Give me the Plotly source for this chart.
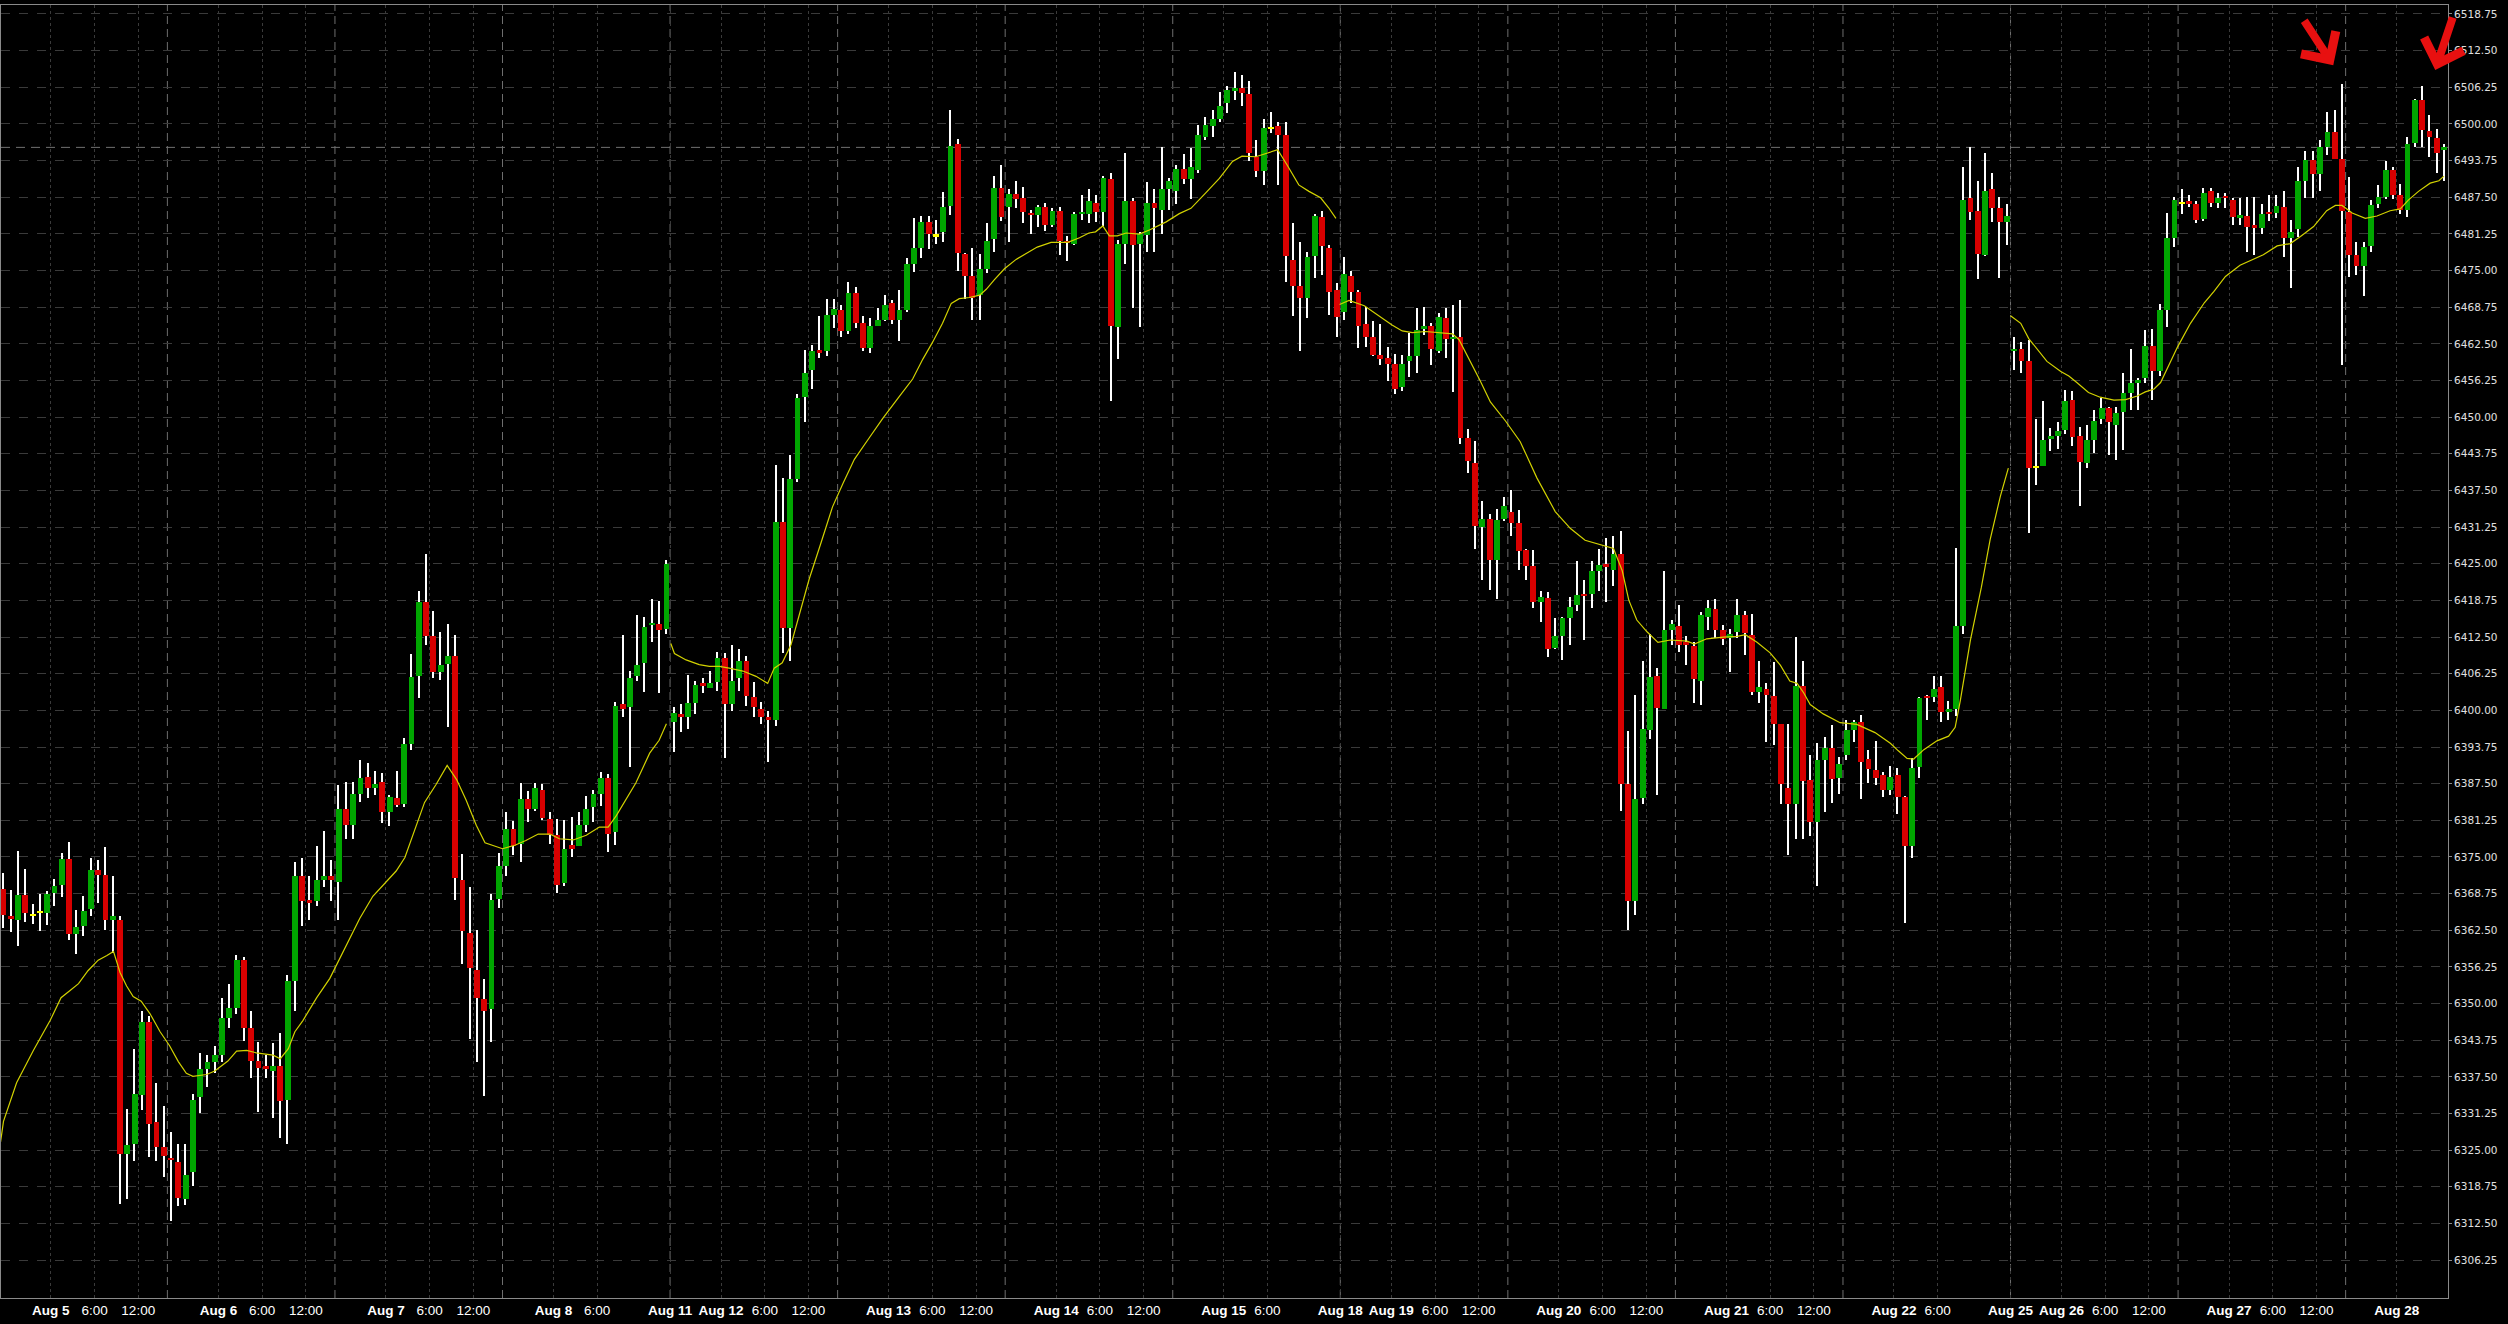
import plotly.graph_objects as go

# ---------------- data (hourly bars) ----------------
opens = [6369.6,6364.7,6364.2,6368.5,6364.9,6365.4,6365.4,6368.8,6370.2,6374.7,6361.8,6363.2,6366.1,6372.8,6372.0,6364.3,6364.3,6324.4,6326.1,6334.4,
6346.9,6329.8,6325.6,6323.6,6323.0,6316.6,6321.2,6334.1,6338.8,6340.1,6341.3,6347.5,6349.2,6357.5,6345.9,6340.2,6339.4,6338.5,6339.4,6333.6,
6353.9,6371.8,6367.4,6367.5,6371.1,6371.7,6370.8,6383.1,6380.4,6385.7,6388.6,6386.8,6387.7,6382.7,6385.1,6384.1,6394.3,6405.8,6418.4,6412.7,
6406.5,6407.9,6409.2,6371.0,6362.0,6355.7,6350.8,6349.0,6367.8,6373.4,6379.8,6377.2,6384.8,6383.2,6386.5,6381.5,6378.7,6370.5,6377.0,6376.8,
6380.4,6383.5,6385.7,6388.5,6379.2,6401.0,6400.5,6405.8,6408.0,6414.5,6414.8,6413.9,6398.0,6399.4,6398.8,6401.3,6404.7,6403.8,6404.8,6408.9,
6401.1,6405.6,6408.4,6402.2,6400.3,6398.8,6398.3,6432.1,6414.0,6439.5,6453.4,6458.0,6461.4,6461.2,6467.5,6468.3,6464.7,6471.1,6466.0,6461.8,
6465.5,6466.6,6469.4,6466.6,6468.3,6476.1,6478.9,6483.2,6480.8,6481.6,6486.0,6496.6,6477.8,6474.1,6470.8,6475.3,6480.4,6489.1,6485.9,6488.0,
6487.3,6484.8,6484.4,6485.8,6482.7,6485.2,6479.9,6479.5,6484.6,6484.7,6486.5,6484.9,6490.6,6465.4,6479.5,6486.9,6479.5,6481.1,6486.6,6485.3,
6488.9,6488.5,6492.3,6490.6,6492.2,6497.7,6499.7,6500.9,6503.6,6505.7,6506.1,6505.1,6494.4,6491.9,6499.1,6499.6,6498.1,6476.8,6472.4,6470.4,
6477.4,6484.1,6478.8,6471.7,6468.0,6474.1,6471.3,6465.9,6463.6,6460.6,6460.0,6459.1,6455.2,6459.5,6460.4,6465.0,6465.6,6461.2,6466.9,6463.3,
6463.6,6446.5,6442.2,6431.2,6432.6,6425.6,6432.6,6433.9,6432.0,6427.4,6424.6,6418.5,6419.2,6410.6,6412.7,6415.8,6417.9,6419.9,6419.8,6423.8,
6424.8,6424.0,6426.6,6387.5,6367.5,6385.1,6396.7,6405.8,6400.3,6413.7,6414.4,6411.5,6410.9,6405.0,6416.0,6417.2,6413.7,6412.4,6413.4,6416.2,
6412.9,6403.2,6403.6,6402.5,6397.6,6386.7,6384.0,6404.1,6388.2,6381.0,6391.5,6393.5,6388.5,6392.4,6396.7,6398.0,6391.7,6389.8,6389.0,6386.5,
6389.0,6385.2,6376.8,6390.3,6402.3,6402.3,6403.9,6399.8,6400.3,6414.4,6487.4,6485.2,6477.7,6488.9,6485.6,6483.2,6461.2,6461.7,6459.6,6441.3,
6441.7,6446.2,6446.7,6447.8,6452.9,6446.7,6442.2,6446.1,6449.7,6451.5,6448.7,6450.8,6454.2,6455.9,6456.7,6462.2,6457.8,6468.2,6480.6,6486.3,
6486.8,6486.3,6483.8,6488.6,6486.5,6487.6,6487.0,6484.0,6484.3,6482.7,6482.2,6484.9,6484.8,6485.9,6480.5,6482.0,6490.3,6493.9,6491.4,6496.1,
6498.7,6494.0,6484.9,6477.7,6475.7,6479.1,6486.4,6487.6,6492.2,6487.9,6485.3,6496.8,6504.1,6498.8,6497.6,6495.5]

highs = [6372.3,6369.4,6376.1,6372.9,6366.9,6368.6,6369.2,6371.2,6375.6,6377.5,6365.9,6368.4,6374.8,6374.5,6376.7,6371.8,6364.9,6332.0,6342.3,6348.7,
6347.9,6336.4,6332.5,6328.1,6326.0,6326.0,6334.6,6341.5,6341.3,6342.8,6350.9,6353.4,6358.3,6357.9,6348.7,6343.4,6341.3,6343.2,6344.9,6354.9,
6374.1,6374.9,6371.8,6376.9,6379.4,6374.5,6387.3,6387.7,6387.8,6391.5,6391.1,6389.6,6389.4,6385.5,6389.6,6395.3,6409.6,6420.3,6426.7,6416.9,
6413.3,6414.7,6412.9,6375.5,6369.8,6362.5,6354.2,6368.6,6375.6,6382.6,6381.1,6387.6,6386.3,6387.6,6387.4,6382.6,6381.5,6381.3,6381.8,6382.6,
6385.4,6386.5,6389.5,6389.1,6401.4,6412.8,6406.7,6416.2,6415.9,6419.0,6418.6,6425.7,6400.5,6401.1,6406.1,6405.0,6405.5,6406.7,6410.0,6409.7,
6411.2,6410.4,6409.3,6404.8,6401.4,6399.9,6441.9,6439.7,6443.6,6454.0,6461.5,6462.3,6467.2,6470.2,6470.2,6469.1,6473.1,6472.2,6467.2,6466.9,
6468.6,6470.8,6469.9,6471.6,6477.2,6484.0,6484.3,6484.3,6483.6,6488.4,6502.4,6497.4,6478.0,6478.9,6477.8,6483.1,6491.1,6493.0,6488.9,6490.3,
6489.3,6485.3,6486.1,6486.5,6485.6,6485.8,6480.9,6485.0,6487.9,6488.9,6487.9,6491.1,6491.6,6480.2,6495.0,6487.3,6481.5,6490.1,6488.9,6496.0,
6490.7,6493.0,6494.8,6495.9,6499.8,6501.2,6502.4,6505.5,6506.5,6508.8,6508.4,6507.3,6497.3,6500.8,6502.0,6500.3,6500.4,6483.1,6479.9,6478.2,
6484.7,6485.2,6479.4,6472.8,6477.3,6475.0,6471.7,6468.8,6466.4,6465.8,6461.9,6460.8,6460.6,6464.4,6468.6,6468.7,6466.0,6467.7,6468.6,6469.2,
6470.0,6448.0,6446.0,6435.7,6433.5,6434.3,6436.3,6437.5,6434.1,6427.6,6427.3,6420.3,6420.1,6415.8,6415.9,6419.4,6425.4,6422.3,6425.4,6427.6,
6429.4,6429.8,6430.5,6396.4,6402.7,6408.4,6413.1,6407.3,6423.8,6415.4,6417.9,6412.7,6411.6,6416.7,6418.8,6419.0,6414.5,6413.8,6419.0,6417.0,
6416.5,6408.4,6404.7,6408.2,6397.7,6397.6,6412.5,6408.4,6392.4,6394.4,6395.5,6397.5,6392.0,6398.4,6398.4,6399.2,6393.3,6394.8,6389.5,6390.5,
6390.1,6385.4,6391.9,6402.3,6402.7,6405.8,6405.8,6401.6,6427.7,6492.6,6496.0,6490.2,6495.0,6491.6,6487.5,6486.4,6463.7,6462.8,6463.2,6449.7,
6452.7,6448.1,6449.2,6454.6,6454.5,6448.3,6448.7,6451.2,6453.3,6451.8,6451.8,6457.6,6461.6,6456.6,6464.9,6465.0,6469.3,6484.8,6487.6,6488.9,
6487.9,6486.8,6489.0,6489.1,6488.2,6488.3,6487.4,6487.4,6487.6,6487.6,6486.3,6487.9,6487.8,6488.5,6483.6,6492.7,6495.3,6495.3,6497.3,6502.1,
6502.4,6506.8,6491.0,6479.9,6479.9,6487.0,6489.6,6493.6,6492.7,6489.8,6497.7,6504.3,6506.5,6501.5,6499.1,6496.6]

lows = [6362.9,6362.2,6359.8,6363.9,6363.6,6362.4,6363.4,6366.7,6368.1,6360.8,6358.5,6361.6,6365.0,6367.1,6362.5,6358.6,6315.8,6316.7,6323.2,6331.8,
6323.8,6323.2,6320.5,6313.0,6315.4,6315.6,6318.9,6331.3,6335.8,6338.1,6340.1,6345.9,6348.3,6343.6,6337.3,6331.5,6337.3,6330.5,6327.1,6326.0,
6348.7,6363.2,6364.2,6366.7,6369.8,6367.5,6364.3,6378.0,6378.0,6384.3,6385.1,6385.5,6380.8,6380.2,6383.5,6383.5,6393.3,6402.1,6411.2,6405.5,
6405.1,6397.1,6367.6,6356.7,6344.0,6340.1,6334.2,6343.4,6366.3,6371.7,6375.3,6374.2,6380.9,6382.8,6381.3,6377.2,6368.9,6370.0,6375.0,6376.8,
6379.2,6380.9,6383.7,6375.9,6377.0,6398.8,6390.4,6405.0,6403.1,6411.7,6403.0,6413.0,6392.9,6396.3,6396.9,6399.4,6403.0,6403.8,6403.3,6391.9,
6399.9,6403.3,6400.7,6398.8,6397.7,6391.2,6397.4,6409.7,6408.4,6438.9,6449.2,6454.8,6460.0,6460.4,6465.2,6463.7,6464.1,6465.2,6461.2,6461.0,
6465.5,6466.4,6465.8,6462.9,6467.9,6474.7,6477.2,6478.7,6479.5,6479.8,6484.5,6475.0,6470.2,6466.6,6466.5,6474.5,6478.2,6483.5,6479.8,6485.6,
6483.1,6481.2,6482.5,6481.8,6482.5,6477.7,6476.6,6479.4,6483.7,6483.1,6483.2,6482.6,6452.8,6459.9,6476.1,6468.6,6465.4,6478.1,6478.2,6481.2,
6485.4,6486.3,6489.8,6487.2,6491.6,6497.3,6497.7,6500.4,6501.9,6504.0,6503.0,6493.7,6491.0,6489.6,6498.5,6489.6,6473.1,6467.3,6461.3,6466.9,
6473.7,6474.2,6467.4,6463.6,6466.5,6469.5,6461.8,6462.0,6460.4,6458.9,6456.2,6453.9,6454.5,6456.8,6457.6,6464.0,6458.9,6461.0,6460.0,6454.3,
6445.5,6440.5,6427.6,6422.3,6420.6,6419.0,6432.3,6429.8,6424.0,6422.2,6417.4,6415.1,6409.1,6410.4,6408.6,6411.1,6417.0,6412.0,6417.5,6420.3,
6418.5,6421.2,6382.8,6362.6,6365.1,6384.0,6395.1,6385.6,6400.3,6411.1,6409.9,6407.7,6401.2,6400.9,6413.7,6412.4,6411.1,6406.6,6412.4,6409.4,
6402.7,6401.2,6394.6,6394.1,6384.0,6375.4,6378.0,6378.0,6378.6,6370.0,6382.6,6384.2,6385.8,6391.5,6394.6,6384.9,6387.6,6387.2,6385.2,6385.6,
6382.4,6363.7,6374.9,6388.5,6398.4,6401.4,6398.0,6398.4,6399.1,6413.0,6483.6,6473.5,6477.4,6483.2,6473.8,6479.4,6458.0,6457.6,6430.3,6438.5,
6441.7,6444.3,6444.5,6447.1,6445.0,6434.8,6441.3,6443.9,6448.8,6443.6,6442.7,6444.4,6451.2,6451.2,6455.8,6453.0,6457.0,6465.3,6479.0,6484.6,
6485.9,6483.1,6483.5,6485.8,6485.6,6485.7,6482.7,6482.7,6478.2,6477.7,6481.3,6483.5,6483.9,6477.3,6472.0,6480.8,6487.4,6487.3,6488.5,6494.7,
6494.0,6458.9,6473.9,6474.3,6470.7,6478.2,6485.6,6487.2,6487.2,6484.6,6484.2,6496.0,6496.0,6494.3,6491.6,6490.2]

closes = [6365.1,6364.5,6368.5,6365.4,6364.9,6365.4,6368.6,6370.1,6374.7,6361.8,6363.0,6365.8,6372.8,6372.0,6364.2,6364.9,6324.4,6325.9,6334.6,6346.9,
6329.5,6325.6,6324.0,6323.3,6316.8,6320.8,6333.6,6338.8,6340.1,6341.3,6347.5,6349.2,6357.5,6345.9,6340.2,6339.0,6338.9,6339.4,6333.4,6353.8,
6371.8,6367.5,6367.2,6371.0,6371.7,6371.0,6383.1,6380.5,6385.7,6388.4,6386.8,6387.4,6382.7,6385.3,6383.8,6394.3,6405.7,6418.4,6412.7,6406.5,
6407.7,6409.2,6371.4,6362.4,6356.1,6351.0,6348.7,6367.7,6373.4,6379.8,6376.8,6384.8,6383.2,6386.7,6381.7,6378.7,6370.3,6376.4,6376.4,6380.4,
6383.2,6385.7,6388.5,6379.0,6400.7,6400.3,6405.6,6407.8,6414.2,6414.8,6413.7,6424.9,6399.6,6398.8,6401.3,6404.4,6404.1,6404.7,6408.9,6401.1,
6405.0,6408.4,6402.5,6400.5,6398.8,6398.3,6432.1,6414.0,6439.5,6453.2,6457.6,6461.3,6461.0,6467.4,6468.5,6464.7,6471.1,6466.0,6461.8,6465.5,
6466.5,6469.2,6466.6,6468.3,6476.1,6478.9,6483.2,6481.2,6480.8,6485.9,6496.3,6478.0,6474.1,6470.3,6475.2,6480.0,6489.1,6484.2,6488.0,6487.2,
6484.9,6484.4,6485.8,6482.8,6485.2,6480.1,6479.7,6484.6,6484.9,6486.9,6484.9,6490.8,6465.6,6479.5,6486.9,6479.4,6481.2,6486.6,6485.6,6488.9,
6490.2,6492.3,6490.6,6492.6,6498.1,6499.8,6500.9,6503.1,6505.8,6506.1,6505.2,6495.0,6491.9,6499.3,6499.1,6498.1,6477.4,6472.4,6470.4,6477.3,
6484.3,6479.1,6471.4,6467.1,6474.4,6471.4,6465.6,6463.7,6460.6,6459.9,6459.1,6454.8,6459.1,6460.4,6464.9,6465.6,6461.6,6467.0,6463.3,6463.6,
6446.5,6442.5,6431.5,6432.6,6425.6,6432.5,6434.8,6432.0,6427.2,6424.7,6418.5,6419.4,6410.5,6412.6,6415.7,6417.6,6419.7,6419.5,6423.8,6424.8,
6424.5,6426.7,6387.5,6367.5,6384.9,6396.9,6405.7,6400.4,6413.7,6414.7,6411.2,6411.2,6405.3,6416.2,6417.4,6413.7,6412.2,6413.1,6416.2,6413.2,
6403.2,6404.0,6402.7,6397.6,6387.4,6384.0,6404.1,6387.9,6381.0,6391.5,6393.5,6388.3,6390.9,6396.7,6398.0,6391.2,6390.0,6388.5,6386.5,6388.7,
6385.2,6376.8,6390.1,6402.1,6402.1,6403.6,6399.8,6400.2,6414.4,6487.0,6484.9,6477.9,6488.6,6485.7,6483.2,6484.3,6461.7,6459.6,6441.4,6441.3,
6446.1,6446.7,6447.7,6452.7,6446.6,6442.4,6446.1,6449.4,6451.5,6449.2,6450.7,6454.2,6455.9,6456.3,6462.2,6457.8,6468.2,6480.5,6487.0,6486.3,
6486.3,6483.7,6488.3,6486.5,6487.4,6487.3,6484.2,6484.3,6482.4,6482.2,6484.6,6484.6,6486.0,6480.5,6481.6,6490.3,6493.9,6491.4,6496.0,6498.7,
6494.0,6485.2,6477.7,6475.8,6479.0,6486.1,6487.6,6492.2,6487.9,6485.4,6496.6,6504.1,6498.9,6497.7,6495.1,6496.0]

doji_bars = [4, 5, 128, 174, 279, 299]

# moving-average line, read at sample points (bar position, value); None = gap at weekend breaks
ma_x = [-0.4,0,1.8,4.1,6.4,7.9,9.1,10.3,11.6,13.0,14.2,15.1,16.0,16.9,17.8,18.9,20.1,21.5,22.8,24.0,25.1,26.0,27.9,29.0,30.8,32.0,33.4,34.7,37.0,38.0,
39.1,40.0,41.1,43.0,44.8,46.6,48.9,50.7,52.1,53.9,55.1,56.7,57.8,59.4,60.9,62.2,63.5,64.9,66.1,68.5,70.2,71.7,73.4,75.0,76.3,78.2,80.0,81.8,83.0,84.1,
85.5,86.8,88.7,90.0,91.0,None,
91.6,92.1,93.7,95.5,96.9,98.3,99.6,101.5,103.3,104.9,105.8,106.9,108.1,109.2,110.6,112.2,113.8,115.2,116.8,118.8,120.7,122.9,124.8,126.2,127.5,128.9,
130.1,131.2,132.6,134.0,134.9,136.0,137.4,139.0,140.3,141.9,143.8,146.1,147.7,149.0,149.9,150.9,151.8,152.9,154.1,155.9,157.3,159.6,161.4,163.0,
165.0,166.9,168.7,170.0,171.9,173.3,174.9,176.2,177.8,179.2,180.8,181.9,182.9,None,
183.4,184.7,186.8,188.8,190.6,192.0,193.4,195.2,197.0,198.9,199.8,201.2,202.7,204.1,206.2,208.2,210.5,213.0,215.1,217.1,219.2,221.0,222.2,223.1,
224.2,225.6,227.1,228.8,231.1,232.1,233.8,236.1,238.0,239.1,240.7,242.5,243.9,245.2,246.2,247.1,248.0,249.8,252.1,254.4,256.9,259.0,260.1,261.3,
262.2,263.6,265.4,267.0,267.9,268.6,270.0,271.5,272.7,274.1,275.2,None,
275.5,276.9,278.0,279.2,280.5,282.4,283.5,284.6,286.2,287.8,289.7,291.3,292.9,294.0,295.2,296.1,297.0,298.4,300.2,302.1,303.4,305.0,307.0,308.9,
310.2,312.1,313.9,315.3,317.1,318.9,320.1,321.0,322.4,324.2,325.8,327.6,329.0,330.1,331.5,333.1,334.3,335.0]
ma_y = [6326.4,6329.9,6336.5,6342.0,6347.1,6351.0,6352.2,6353.4,6355.6,6357.4,6358.2,6358.9,6355.3,6353.0,6351.2,6350.4,6348.3,6345.2,6342.8,6340.1,
6338.1,6337.6,6337.9,6338.5,6340.2,6341.9,6342.0,6341.6,6341.2,6340.6,6342.3,6345.2,6347.1,6351.0,6354.3,6358.9,6364.5,6368.3,6370.2,6372.6,
6374.9,6380.4,6384.3,6387.4,6390.6,6388.2,6384.7,6380.4,6377.4,6376.4,6377.0,6377.8,6378.9,6378.9,6378.1,6377.9,6378.7,6380.1,6380.1,6382.0,
6384.8,6387.6,6392.7,6394.9,6397.7,None,
6411.4,6409.7,6408.6,6407.8,6407.5,6407.5,6407.2,6406.7,6405.8,6404.6,6407.2,6408.1,6411.2,6416.2,6422.4,6428.5,6434.7,6438.6,6442.8,6446.4,
6449.8,6453.4,6456.5,6459.9,6462.7,6466.0,6469.4,6470.2,6470.4,6470.8,6471.8,6473.4,6475.3,6476.9,6477.9,6479.0,6479.8,6479.8,6480.6,6481.4,
6481.6,6482.6,6480.9,6480.9,6481.4,6481.2,6481.9,6483.3,6484.7,6485.6,6488.2,6490.7,6493.6,6494.5,6494.4,6494.9,6495.6,6493.0,6489.6,6488.5,
6487.4,6485.7,6483.9,None,
6469.2,6469.9,6469.0,6467.3,6465.7,6464.7,6464.4,6464.6,6464.4,6464.2,6463.2,6459.9,6456.2,6452.6,6449.3,6445.8,6439.6,6433.9,6431.0,6429.0,
6428.2,6427.6,6423.8,6418.8,6415.4,6413.4,6411.6,6412.0,6411.8,6411.3,6412.2,6412.5,6412.6,6412.9,6411.6,6409.8,6407.7,6405.0,6404.6,6403.0,
6401.0,6399.4,6397.9,6397.6,6396.2,6394.4,6393.1,6391.8,6391.7,6393.3,6394.8,6395.6,6397.1,6401.6,6412.0,6421.0,6429.1,6436.5,6441.3,None,
6467.3,6466.0,6463.4,6461.5,6459.5,6457.8,6457.0,6455.9,6454.2,6453.4,6452.9,6453.0,6453.6,6454.3,6454.8,6455.9,6458.2,6461.9,6466.0,6469.5,
6471.4,6474.0,6475.9,6476.9,6477.7,6479.2,6479.6,6480.8,6482.5,6485.2,6486.1,6486.1,6484.8,6483.9,6484.3,6485.2,6485.5,6487.0,6488.5,6489.9,
6490.3,6491.1]

tick_pos = [6.5,12.5,18.5,29.5,35.5,41.5,52.5,58.5,64.5,75.5,81.5,91.5,98.5,104.5,110.5,121.5,127.5,133.5,144.5,150.5,156.5,167.5,173.5,
183.5,190.5,196.5,202.5,213.5,219.5,225.5,236.5,242.5,248.5,259.5,265.5,275.5,282.5,288.5,294.5,305.5,311.5,317.5,328.5]
tick_labels = ["Aug 5","6:00","12:00","Aug 6","6:00","12:00","Aug 7","6:00","12:00","Aug 8","6:00","Aug 11","Aug 12","6:00","12:00",
"Aug 13","6:00","12:00","Aug 14","6:00","12:00","Aug 15","6:00","Aug 18","Aug 19","6:00","12:00","Aug 20","6:00","12:00",
"Aug 21","6:00","12:00","Aug 22","6:00","Aug 25","Aug 26","6:00","12:00","Aug 27","6:00","12:00","Aug 28"]

price_ticks = [6306.25 + 6.25 * k for k in range(35)]   # 6306.25 ... 6518.75

session_breaks = [22.5,45.5,68.5,91.5,114.5,137.5,160.5,183.5,206.5,229.5,252.5,275.5,298.5,321.5]

# ---------------- styling ----------------
GREEN = "#00a600"
RED = "#d80000"
DOJI = "#ffff00"
GRID = "#3a3a3a"
FRAME = "#8a8a8a"

n = len(opens)
idx = list(range(n))

bases, heights, colors = [], [], []
for i in idx:
    o, c = opens[i], closes[i]
    bases.append(min(o, c))
    heights.append(max(abs(c - o), 0.4))
    if i in doji_bars:
        colors.append(DOJI)
    elif c >= o:
        colors.append(GREEN)
    else:
        colors.append(RED)

wick_len = [h - l for h, l in zip(highs, lows)]

fig = go.Figure()
# wicks (thin bars so they sit below the bodies in the same layer)
fig.add_trace(go.Bar(x=idx, y=wick_len, base=lows, width=0.17,
                     marker=dict(color="#ffffff", line=dict(width=0)),
                     hoverinfo="skip", showlegend=False))
# bodies
fig.add_trace(go.Bar(x=idx, y=heights, base=bases, width=0.8,
                     marker=dict(color=colors, line=dict(width=0)),
                     hoverinfo="skip", showlegend=False))
# moving average
fig.add_trace(go.Scatter(x=ma_x, y=ma_y, mode="lines", connectgaps=False,
                         line=dict(color="#d2d200", width=1.2),
                         hoverinfo="skip", showlegend=False))

shapes = []
for b in session_breaks:
    shapes.append(dict(type="line", xref="x", yref="paper", x0=b, x1=b, y0=0, y1=1,
                       line=dict(color="#6e6e6e", width=1, dash="8px,5px"), layer="below"))
shapes.append(dict(type="line", xref="paper", yref="y", x0=0, x1=1, y0=closes[-1], y1=closes[-1],
                   line=dict(color="#707070", width=1, dash="9px,6px"), layer="below"))

ticktext = [("<b>%s</b>" % t) if t.startswith("Aug") else t for t in tick_labels]

fig.update_layout(
    width=2508, height=1324,
    margin=dict(l=1, r=60, t=5, b=26),
    paper_bgcolor="#000000", plot_bgcolor="#000000",
    bargap=0, barmode="overlay",
    shapes=shapes,
    showlegend=False,
    font=dict(family="Liberation Sans, Arial, sans-serif", color="#ffffff"),
    xaxis=dict(range=[-0.34, 335.55], tickmode="array", tickvals=tick_pos, ticktext=ticktext,
               showgrid=True, gridcolor=GRID, griddash="dot", gridwidth=1,
               zeroline=False, showline=True, linecolor=FRAME, linewidth=1, mirror=True,
               ticks="", tickfont=dict(size=13.5, color="#ffffff", family="Liberation Sans, Arial"),
               fixedrange=True, automargin=False),
    yaxis=dict(side="right", range=[6299.79, 6520.28], tickmode="array", tickvals=price_ticks,
               tickformat=".2f",
               showgrid=True, gridcolor=GRID, griddash="dash", gridwidth=1,
               zeroline=False, showline=True, linecolor=FRAME, linewidth=1, mirror=True,
               ticks="outside", ticklen=3, tickcolor=FRAME,
               tickfont=dict(size=10.5, color="#e0e0e0", family="DejaVu Sans"),
               fixedrange=True, automargin=False),
    annotations=[
        dict(x=319.8, y=6510.0, xref="x", yref="y", ax=-30, ay=-46, text="", showarrow=True,
             arrowhead=4, arrowsize=1.0, arrowwidth=8, arrowcolor="#e81010"),
        dict(x=333.8, y=6509.2, xref="x", yref="y", ax=18, ay=-54, text="", showarrow=True,
             arrowhead=4, arrowsize=1.0, arrowwidth=8, arrowcolor="#e81010"),
    ],
)

fig.write_html("out.html", config={"displayModeBar": False},
               post_script="document.body.style.margin='0px';")
